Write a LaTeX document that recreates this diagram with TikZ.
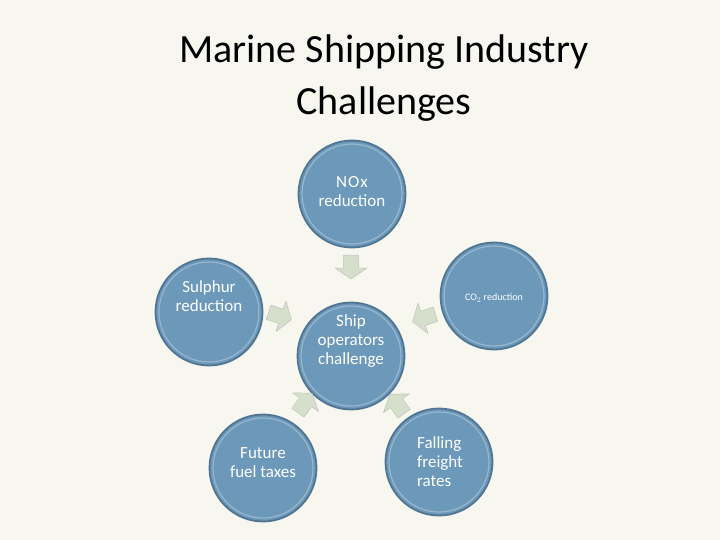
\documentclass[tikz,border=0pt]{standalone}
\usepackage{fontspec}
\setmainfont{Carlito}
\definecolor{bgcream}{RGB}{247,247,240}
\definecolor{discblue}{RGB}{108,152,186}
\definecolor{discrim}{RGB}{80,117,147}
\definecolor{arrowfill}{RGB}{214,223,204}
\definecolor{arrowedge}{RGB}{188,198,178}
\tikzset{
  disc/.style={circle, fill=discblue, draw=discrim, line width=1.8pt,
    minimum size=107pt, inner sep=0pt},
  disctext/.style={text=white, font=\fontsize{17}{19}\selectfont, align=center},
  inward/.style={fill=arrowfill, draw=arrowedge, line width=0.5pt, line join=round}
}
\begin{document}
\begin{tikzpicture}[x=1pt,y=-1pt]
\useasboundingbox[fill=bgcream] (0,0) rectangle (720,540);
% title
\node[font=\fontsize{40}{52}\selectfont, align=center, anchor=base] (title) at (384,115)
  {Marine Shipping Industry\\Challenges};
% discs
\node[disc] (nox) at (352,194) {};
\node[disc] (sulphur) at (209,312) {};
\node[disc] (cotwo) at (494,296) {};
\node[disc] (hub) at (351,356) {};
\node[disc] (future) at (263,468) {};
\node[disc] (falling) at (439,462) {};
\foreach \n in {nox,sulphur,cotwo,hub,future,falling}
  \draw[white, opacity=0.3, line width=1.2pt] (\n.center) circle (50);
% texts
\node[disctext] at ([yshift=2pt]nox.center) {N\kern1pt O\kern1pt x\\reduction};
\node[disctext] at ([yshift=16pt]sulphur.center) {Sulphur\\reduction};
\node[disctext, font=\fontsize{10}{12}\selectfont] at ([yshift=-2pt]cotwo.center) {CO$_2$ reduction};
\node[disctext] at ([yshift=15pt]hub.center) {Ship\\operators\\challenge};
\node[disctext] at ([yshift=5pt]future.center) {Future\\fuel taxes};
\node[disctext, align=left] at ([xshift=1pt]falling.center) {Falling\\freight\\rates};
% arrows towards the hub
\foreach \ax/\ay/\ang in {351/267/-90, 280/316/-18, 424/318/198, 305/403/54, 397/404/126}
  \draw[inward, shift={(\ax,\ay)}, rotate=\ang]
    (-12,-7.5) -- (1,-7.5) -- (1,-16) -- (12,0) -- (1,16) -- (1,7.5) -- (-12,7.5) -- cycle;
\end{tikzpicture}
\end{document}
